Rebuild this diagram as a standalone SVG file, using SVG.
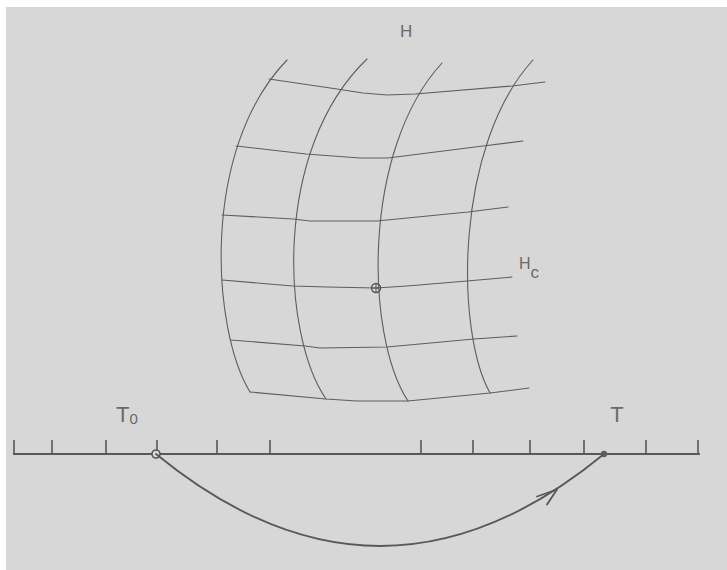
<svg xmlns="http://www.w3.org/2000/svg" width="727" height="570" viewBox="0 0 727 570">
<defs>
<style>
.bg{fill:#d7d7d7}
.grid{fill:none;stroke:#5e5e5e;stroke-width:1.1;stroke-linejoin:round;stroke-linecap:round}
.axis{fill:none;stroke:#585858;stroke-width:2}
.tick{stroke:#585858;stroke-width:1.6}
.conn{fill:none;stroke:#585858;stroke-width:1.8;stroke-linecap:round;stroke-linejoin:round}
.lbl{font-family:"Liberation Sans",Arial,sans-serif;fill:#6a6a6a}
</style>
</defs>
<rect x="0" y="0" width="727" height="570" fill="#ffffff"/>
<rect class="bg" x="6" y="7" width="721" height="563"/>

<g id="surface-H">
<path class="grid" d="M287,60 C200,150 212,330 250,392"/>
<path class="grid" d="M367,59 C272,150 282,335 326,399"/>
<path class="grid" d="M442,63 C362,150 365,335 408,401"/>
<path class="grid" d="M533,60 C455,145 455,330 490,393"/>
<polyline class="grid" points="269,79 337,89 363,93 387,95 415,94 512,86 545,82"/>
<polyline class="grid" points="236,146 306,154 360,158 388,158 483,146 523,141"/>
<polyline class="grid" points="222,215 293,219 310,221 377,221 468,212 508,207"/>
<polyline class="grid" points="222,280 293,286 327,287 376,288 407,286 467,281 512,277"/>
<polyline class="grid" points="231,340 305,346 320,348 387,347 474,339 517,336"/>
<polyline class="grid" points="250,392 326,399 357,401 408,401 490,393 529,388"/>
<text class="lbl" x="400" y="37" font-size="17">H</text>
</g>

<g id="point-Hc">
<circle cx="376" cy="288" r="4.5" fill="none" stroke="#555" stroke-width="1.4"/>
<path d="M376,283.5 V292.5 M371.5,288 H380.5" stroke="#555" stroke-width="1"/>
<text class="lbl" x="519" y="269" font-size="16">H<tspan font-size="17" dy="9">c</tspan></text>
</g>

<g id="time-axis">
<line class="axis" x1="13" y1="454" x2="700" y2="454"/>
<g class="tick">
<line x1="14" y1="440" x2="14" y2="454"/>
<line x1="52" y1="440" x2="52" y2="454"/>
<line x1="106" y1="440" x2="106" y2="454"/>
<line x1="157" y1="440" x2="157" y2="454"/>
<line x1="217" y1="440" x2="217" y2="454"/>
<line x1="270" y1="440" x2="270" y2="454"/>
<line x1="421" y1="440" x2="421" y2="454"/>
<line x1="473" y1="440" x2="473" y2="454"/>
<line x1="530" y1="440" x2="530" y2="454"/>
<line x1="584" y1="440" x2="584" y2="454"/>
<line x1="646" y1="440" x2="646" y2="454"/>
<line x1="698" y1="440" x2="698" y2="454"/>
</g>
</g>

<g id="node-T0">
<circle cx="156" cy="454" r="4" fill="#d7d7d7" stroke="#555" stroke-width="1.6"/>
<text class="lbl" x="116" y="422" font-size="22">T<tspan font-size="15" dy="2">0</tspan></text>
</g>

<g id="node-T">
<circle cx="604" cy="454" r="3.2" fill="#606060"/>
<text class="lbl" x="617" y="422" font-size="22" text-anchor="middle">T</text>
</g>

<g id="connectors">
<path class="conn" d="M156,454 Q380.5,638 604,454"/>
<polyline class="conn" stroke-width="2.2" points="537,496.5 557,489.5 547,504.5"/>
</g>
</svg>
